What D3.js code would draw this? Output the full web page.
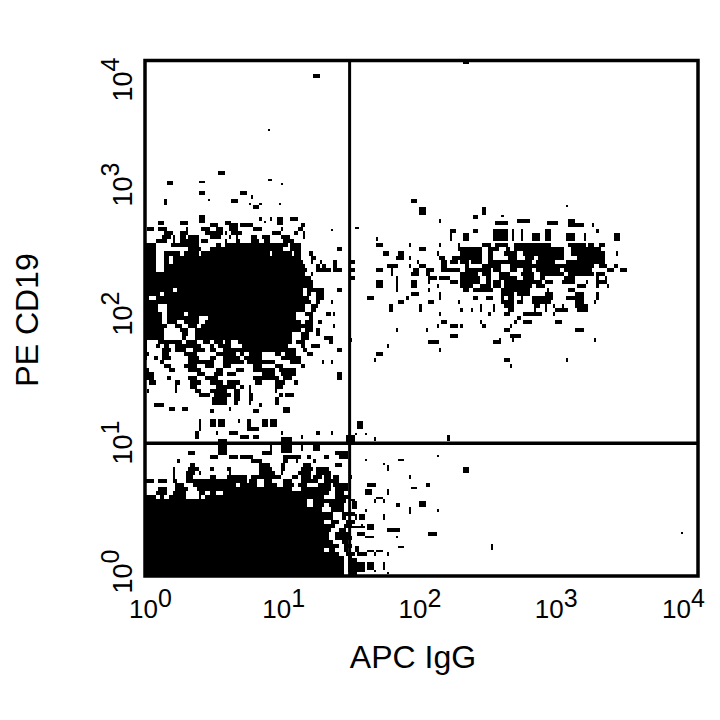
<!DOCTYPE html>
<html>
<head>
<meta charset="utf-8">
<script src="https://cdn.jsdelivr.net/npm/d3@7"></script>
<style>
  html, body { margin: 0; background: #fff; }
  text { font-family: "Liberation Sans", Arial, sans-serif; fill: #000; }
</style>
</head>
<body>
<div id="chart"></div>
<script>
// values are cytometer channels: 256 channels over 4 decades
var channelsPerDecade = 64;
var xTicks = [1, 10, 100, 1000, 10000];
var yTicks = [1, 10, 100, 1000, 10000];
var gateApc = 30.2;
var gatePe = 10.9;

// upper left population: PE row and the APC runs [from, to] in that row
var ulPe = [174,172,170,168,166,164,162,160,158,156,154,152,150,148,146,144,142,140,138,136,134,132,130,128,126,124,122,120,118,116,114,112,110,108,106,104,102,100,98,96,94,92,90,88,86,85,83,82,77,75,73,71,69];
var ulApc = [
  [30,34,39,43,44,50,72,74],
  [1,4,6,10,19,20,26,30,33,36,39,43,50,54,63,64,71,73],
  [9,13,16,20,28,36,37,38,40,45,59,63,69,71,73,74],
  [8,12,13,14,16,19,20,25,30,35,39,40,42,43,49,52,54,58,63,67,73,74],
  [5,10,13,14,16,25,26,29,37,38,42,44,49,53,55,58,64,69],
  [0,5,12,25,33,35,37,66,67,72],
  [0,5,20,26,30,64,67,72,89,91],
  [0,5,9,16,18,25,26,58,59,68,69,72,76,78],
  [0,5,9,11,13,72,77,79],
  [0,5,9,11,13,73,77,78,81,82,87,89],
  [0,5,9,74,79,81,82,84,87,89],
  [0,5,9,75,79,86,87,91],
  [0,74,77,78],
  [0,77],
  [0,78],
  [0,78],
  [0,13,15,73,75,83,89,91],
  [0,7,9,73,75,77,79,83],
  [0,2,5,76,79,83],
  [0,77,79,81,86,87],
  [0,6,10,74,77,80],
  [0,6,10,74,77,79],
  [0,8,10,18,20,70,74,78,84,86,87,88],
  [0,8,10,25,29,70,76,78],
  [0,8,10,15,18,25,28,72,74,78,80,82],
  [0,10,14,17,20,24,26,78,87,88],
  [0,9,16,20,23,72,74,78,79,81],
  [0,9,17,20,23,68,72,76,79,81],
  [0,9,17,19,23,68,72,76,83,87],
  [0,1,6,17,19,24,27,30,32,36,37,40,43,68,70,74,85,87],
  [0,1,5,7,9,11,14,26,30,32,34,40,45,66,72,74,77,81],
  [0,1,8,12,14,19,22,28,30,33,36,70,73,75,89,91],
  [0,2,8,11,18,24,33,42,44,46,48,54,60,63,65,70,75,78],
  [0,1,4,6,8,12,20,25,30,33,36,44,46,54,63,72],
  [7,9,20,32,36,46,47,60,67,72,82,83,86,87],
  [9,12,18,24,28,32,36,40,50,54,60,64,72,74],
  [0,2,11,14,20,26,33,36,42,46,50,60,62,70],
  [0,4,24,28,32,36,38,42,54,60,63,70,89,91],
  [0,4,10,12,20,24,28,34,50,62,64,68,89,91],
  [2,5,14,16,21,26,30,36,38,44,51,54,60,65,69,71],
  [14,15,21,24,33,42,44,46,48,49,60,64],
  [1,2,14,15,23,26,30,38,41,44,48,49,60,61],
  [25,30,32,40,41,44,48,50,62,64,65,69],
  [31,38,41,44,48,50,60,62],
  [31,38,41,43,48,49,60,62],
  [4,9,53,54],
  [11,14,17,20,39,40,64,67],
  [30,32,50,53,64,67],
  [25,26,30,33,34,37,43,44,47,49,54,57,58,61],
  [25,26,30,33,34,37,47,49,54,57,58,61],
  [25,26,47,49,49,53],
  [23,25,33,34,39,43,63,64,79,81,86,87],
  [23,25,44,48,50,53,72,73]
];

// lower left population
var llPe = [61,59,57,55,53,51,49,47,45,43,41,39,37,35,33,31,29,27,25,23,21,19,17,15,13,11,9,7,5,3,1];
var llApc = [
  [20,23,54,59,88,94],
  [30,34,39,43,44,50,64,72,75,77,83,85,90,94],
  [15,16,49,54,64,66,70,71,78,79],
  [21,23,53,58,63,65,73,77,88,91],
  [13,14,20,25,30,32,38,40,53,59,63,65,72,78,79,85],
  [13,14,19,23,25,26,39,40,53,60,63,64,71,77,79,86],
  [13,14,19,22,30,33,38,47,49,63,68,71,72,77,78,82,83,86,87,90],
  [0,4,6,10,13,15,19,47,48,52,55,59,64,68,72,80,83,90],
  [14,18,22,42,44,52,55,61,64,69,71,75,80,86,87,94],
  [6,10,14,20,24,68,72,86,88,94],
  [5,10,13,19,25,28,30,33,36,85,88,92],
  [0,5,7,9,11,19,25,26,28,83,88,95],
  [0,75,78,93],
  [0,75,78,83,85,92],
  [0,82,86,92],
  [0,87,91,97],
  [0,87,91,93],
  [0,83,86,90,93,97],
  [0,88,92,96],
  [0,86,90,93],
  [0,85,88,95],
  [0,85,88,96],
  [0,87,91,94],
  [0,90,92,96],
  [0,83,85,88,92,94],
  [0,90,93,97],
  [0,92,94,96],
  [0,92,94,96],
  [0,92,94,98],
  [0,92,94,98],
  [0,92,95,98]
];

// upper right population
var urPe = [176,175,174,171,169,167,164,162,160,158,156,154,152,150,148,146,144,142,140,138,136,134,132,130,128,126,124,122,119,117,116,114,112,110,107,104];
var urApc = [
  [136,137,172,178,196,199],
  [162,168,186,191],
  [196,203,207,208],
  [141,144,152,154,161,168,170,171,174,175,185,188,209,210],
  [141,142,147,150,161,168,170,171,174,175,179,183,185,188,195,199,203,204,217,220],
  [107,108,141,142,147,150,161,168,170,171,174,175,179,183,185,188,195,199,203,204,217,220],
  [107,110,122,123,136,137,145,146,156,160,162,168,171,188,196,204,205,208,210,213],
  [127,130,145,146,146,156,159,164,167,169,171,194,197,211],
  [110,113,117,120,135,136,146,156,159,161,166,172,175,194,197,213,218,219],
  [116,120,122,123,136,139,142,156,159,161,168,172,176,180,182,194,200,213],
  [95,97,126,127,137,140,141,145,146,150,151,156,159,179,181,190,195,213],
  [112,117,122,123,127,130,137,140,148,150,156,165,169,208,210,214,217,219],
  [95,97,107,110,114,115,124,127,130,134,137,146,148,160,161,165,169,172,175,179,181,192,194,207,214,217,220,223],
  [114,115,123,127,130,132,146,154,156,160,164,169,174,180,183,194,196,208,209,213],
  [95,97,116,117,131,135,136,141,146,155,158,160,164,172,175,180,183,185,194,199,209,210,213,214],
  [107,110,116,117,123,126,131,132,141,145,146,155,158,160,161,165,166,184,185,189,193,199,204,205,209,214],
  [107,110,116,117,123,126,135,136,146,152,155,160,161,165,166,179,181,185,200,204,209,210,214,215],
  [116,117,131,132,147,150,152,161,165,178,186,187,196,199],
  [123,127,136,137,165,171,172,178,185,189,199,203,209,210],
  [103,106,121,122,136,137,152,154,158,161,165,166,168,171,174,175,179,189,195,203,209,210],
  [117,120,131,134,145,146,165,171,172,175,179,188,199,203,208,209],
  [113,115,127,128,155,156,161,162,166,171,180,183,185,186,189,190,193,194,199,205],
  [113,115,127,128,146,147,151,152,155,156,161,162,168,171,180,181,185,186,190,196,200,205],
  [136,137,159,160,166,169,175,184,189,190],
  [172,174],
  [137,140,155,156,171,172,175,179,190,193],
  [135,136,141,145,146,147,156,158,169,170],
  [116,117,130,131,166,169,199,203],
  [141,145,169,174],
  [95,96,164,165,170,171,208,209],
  [131,136,161,165],
  [112,113],
  [136,137],
  [107,110],
  [106,107,166,169,195,196],
  [169,170]
];

// isolated events: APC channel span, PE channel span
var spotApc = [[78,81],[147,150],[57,58],[34,37],[10,13],[57,58],[63,64],[9,10],[29,30],[25,28],[44,47],[49,50],[40,43],[48,49],[62,63],[50,53],[53,54],[25,28],[6,9],[16,20],[37,40],[53,54],[55,56],[58,59],[61,64],[67,71],[86,87],[98,99],[58,59],[25,28],[123,126],[127,130],[195,196],[156,158],[152,154],[165,166],[97,98],[98,101],[97,98],[102,103],[106,107],[140,141],[95,97],[34,38],[63,68],[93,97],[72,73],[58,59],[78,81],[102,103],[117,120],[135,136],[110,111],[112,113],[147,150],[122,123],[95,96],[103,107],[130,132],[123,126],[102,105],[112,113],[107,110],[106,107],[110,111],[127,130],[116,118],[102,103],[122,123],[135,136],[99,102],[110,111],[103,106],[95,102],[112,118],[131,135],[98,102],[102,106],[116,117],[117,120],[160,161],[103,106],[107,110],[98,103],[106,107],[112,113],[97,99],[95,98],[98,102],[103,106],[110,111],[106,107],[112,113],[248,249],[96,98],[95,97],[97,98],[100,101],[140,141]];
var spotPe = [[247,249],[254,256],[221,222],[199,201],[194,196],[196,197],[194,195],[184,187],[186,187],[189,191],[189,191],[187,189],[185,187],[184,185],[184,185],[182,184],[184,185],[175,179],[174,176],[174,176],[174,176],[176,178],[175,176],[176,178],[174,178],[176,178],[171,172],[172,173],[196,197],[195,196],[185,187],[179,183],[183,184],[179,183],[177,179],[178,179],[172,173],[73,77],[70,71],[70,71],[67,69],[67,69],[67,70],[60,68],[61,69],[65,70],[62,66],[62,66],[62,66],[57,58],[57,58],[59,60],[55,56],[52,55],[51,54],[48,50],[48,50],[44,46],[44,46],[43,44],[40,43],[40,43],[38,39],[36,38],[36,38],[34,37],[34,36],[32,33],[31,34],[32,33],[28,31],[28,31],[23,26],[24,25],[22,24],[20,22],[20,22],[19,20],[19,20],[14,15],[13,16],[12,13],[12,13],[10,12],[10,12],[10,12],[12,15],[0,9],[2,7],[3,7],[3,7],[2,3],[1,2],[21,22],[33,37],[37,38],[28,31],[25,26],[68,70]];

var width = 720,
    height = 720,
    plotLeft = 145,
    plotRight = 698,
    plotTop = 60,
    plotBottom = 576;

var x = d3.scaleLog().domain([1, 10000]).range([plotLeft, plotRight]);
var y = d3.scaleLog().domain([1, 10000]).range([plotBottom, plotTop]);

// channel number to fluorescence value
function chValue(ch){
  return Math.pow(10, ch / channelsPerDecade);
}

var svg = d3.select("#chart")
  .append("svg")
    .attr("width", width)
    .attr("height", height)
    .style("display", "block");

var dots = svg.append("g").attr("shape-rendering", "crispEdges");

function drawRect(a0, a1, p0, p1){
  dots.append("rect")
    .attr("x", x(chValue(a0)))
    .attr("y", y(chValue(p1)))
    .attr("width", x(chValue(a1)) - x(chValue(a0)))
    .attr("height", y(chValue(p0)) - y(chValue(p1)))
    .attr("fill", "#000");
}

function drawRows(peRows, apcRuns){
  peRows.forEach(function(pe, i){
    var runs = apcRuns[i];
    for (var k = 0; k < runs.length; k += 2) {
      drawRect(runs[k], runs[k + 1], pe - 1, pe + 1);
    }
  });
}

drawRows(ulPe, ulApc);
drawRows(llPe, llApc);
drawRows(urPe, urApc);
spotApc.forEach(function(a, i){
  drawRect(a[0], a[1], spotPe[i][0], spotPe[i][1]);
});

// quadrant gates
svg.append("line")
  .attr("x1", x(gateApc)).attr("x2", x(gateApc))
  .attr("y1", plotTop).attr("y2", plotBottom)
  .attr("stroke", "#000").attr("stroke-width", 3);
svg.append("line")
  .attr("x1", plotLeft).attr("x2", plotRight)
  .attr("y1", y(gatePe) + 1).attr("y2", y(gatePe) + 1)
  .attr("stroke", "#000").attr("stroke-width", 3.5);

// frame
svg.append("rect")
  .attr("x", plotLeft).attr("y", plotTop + 0.5)
  .attr("width", plotRight - plotLeft).attr("height", plotBottom - plotTop - 0.5)
  .attr("fill", "none")
  .attr("stroke", "#000")
  .attr("stroke-width", 3.5);

function powerLabel(sel, d, supSize, rise){
  var exp = Math.round(Math.log10(d));
  sel.text(null);
  sel.append("tspan").text("10");
  sel.append("tspan").attr("dy", -rise).style("font-size", supSize + "px").text(exp);
}

// tick labels come from the axes, ticks themselves are not drawn in the original
var xAxis = svg.append("g")
  .attr("transform", "translate(0," + plotBottom + ")")
  .call(d3.axisBottom(x).tickValues(xTicks).tickSize(0));
xAxis.select(".domain").remove();
xAxis.selectAll("text")
  .attr("y", 42)
  .attr("dy", 0)
  .attr("x", function(d){
    if (d === 1) return 5;
    if (d === 10) return 0;
    if (d === 100) return -2;
    return d === 1000 ? -4 : -15;
  })
  .style("font-size", "26px")
  .each(function(d){ powerLabel(d3.select(this), d, 25, 11); });

var yAxis = svg.append("g")
  .attr("transform", "translate(" + plotLeft + ",0)")
  .call(d3.axisLeft(y).tickValues(yTicks).tickSize(0));
yAxis.select(".domain").remove();
yAxis.selectAll("text")
  .attr("dy", 0)
  .attr("x", 0)
  .attr("y", 0)
  .attr("text-anchor", "middle")
  .attr("transform", function(d){
    var shift = d === 10000 ? 19 : -5;
    return "translate(-13," + shift + ") rotate(-90)";
  })
  .style("font-size", "27px")
  .each(function(d){ powerLabel(d3.select(this), d, 25, 13); });

svg.append("text")
  .attr("x", 413)
  .attr("y", 668)
  .attr("text-anchor", "middle")
  .style("font-size", "32px")
  .text("APC IgG");

svg.append("text")
  .attr("transform", "translate(38,320) rotate(-90)")
  .attr("text-anchor", "middle")
  .style("font-size", "32px")
  .text("PE CD19");
</script>
</body>
</html>
